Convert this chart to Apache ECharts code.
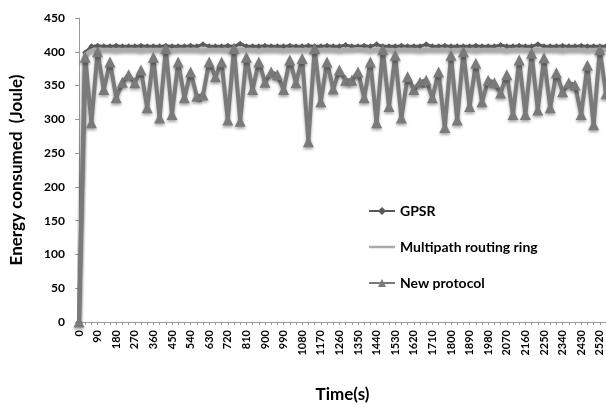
<!DOCTYPE html>
<html>
<head>
<meta charset="utf-8">
<script src="https://cdn.jsdelivr.net/npm/echarts@6/dist/echarts.min.js"></script>
<style>
html,body{margin:0;padding:0;background:#fff;}
#chart{width:606px;height:408px;}
</style>
</head>
<body>
<div id="chart"></div>
<script>
var timeLabels = ['0','30','60','90','120','150','180','210','240','270','300','330','360','390','420','450','480','510','540','570','600','630','660','690','720','750','780','810','840','870','900','930','960','990','1020','1050','1080','1110','1140','1170','1200','1230','1260','1290','1320','1350','1380','1410','1440','1470','1500','1530','1560','1590','1620','1650','1680','1710','1740','1770','1800','1830','1860','1890','1920','1950','1980','2010','2040','2070','2100','2130','2160','2190','2220','2250','2280','2310','2340','2370','2400','2430','2460','2490','2520','2550'];

var gpsr = [0,399,408,409,408,408,409,408,408,408,409,408,408,408,409,408,408,408,409,408,411,408,408,408,409,408,412,408,408,408,409,408,408,408,409,408,408,409,408,408,409,408,408,410,408,408,409,408,411,408,408,408,409,408,408,408,411,408,408,409,408,408,408,408,409,408,408,408,410,408,408,409,408,408,411,408,408,408,409,408,408,409,408,408,408,408];

var multipath = [0,396,402,403,403,403,402,403,403,403,402,403,403,403,403,402,403,403,403,403,402,403,403,403,402,403,403,403,403,402,403,403,403,402,403,403,403,403,402,403,403,403,402,403,403,404,403,402,403,403,403,402,403,403,403,402,403,403,403,403,402,403,403,403,402,403,403,403,403,402,403,403,403,402,403,403,403,403,402,403,403,403,402,403,403,403];

var newProtocol = [0,392,295,400,344,385,332,355,366,354,373,317,392,302,405,307,385,332,370,334,336,385,363,385,299,405,297,392,344,385,355,370,366,344,388,354,390,267,405,326,385,345,373,358,358,370,332,385,295,403,319,395,302,363,344,355,358,332,370,288,395,299,400,319,383,326,358,354,339,366,307,388,307,398,314,391,317,369,341,354,351,307,380,292,403,338];

var yTicks = {min: 0, max: 450, interval: 50};

var chart = echarts.init(document.getElementById('chart'));
var shadow = {shadowColor: 'rgba(0,0,0,0.35)', shadowBlur: 3, shadowOffsetY: 2};
var fontFam = 'Lato, "Open Sans", sans-serif';

chart.setOption({
  animation: false,
  backgroundColor: '#fff',
  grid: {left: 79, right: 0, top: 18, bottom: 85, containLabel: false},
  legend: {
    orient: 'vertical',
    left: 363,
    top: 199,
    itemGap: 22,
    itemWidth: 26,
    itemHeight: 10,
    textStyle: {fontFamily: fontFam, fontWeight: 'bold', fontSize: 14, color: '#000'},
    data: [
      {name: 'GPSR'},
      {name: 'Multipath routing ring', icon: 'path://M0,4 L26,4 L26,6.5 L0,6.5 Z'},
      {name: 'New protocol'}
    ]
  },
  xAxis: {
    type: 'category',
    boundaryGap: false,
    data: timeLabels,
    name: 'Time(s)',
    nameLocation: 'middle',
    nameGap: 64,
    nameTextStyle: {fontFamily: fontFam, fontWeight: 'bold', fontSize: 17, color: '#000'},
    axisLine: {lineStyle: {color: '#9a9a9a', width: 1}},
    axisTick: {show: true, interval: 0, length: 3, lineStyle: {color: '#9a9a9a'}},
    axisLabel: {interval: 2, rotate: 90, fontFamily: fontFam, fontWeight: 'bold', fontSize: 11, color: '#000', margin: 8},
    splitLine: {show: false}
  },
  yAxis: {
    type: 'value',
    min: yTicks.min,
    max: yTicks.max,
    interval: yTicks.interval,
    name: 'Energy consumed  (Joule)',
    nameLocation: 'middle',
    nameGap: 54,
    nameTextStyle: {fontFamily: fontFam, fontWeight: 'bold', fontSize: 17, color: '#000'},
    axisLine: {show: true, lineStyle: {color: '#9a9a9a', width: 1}},
    axisTick: {show: true, length: 4, lineStyle: {color: '#9a9a9a'}},
    axisLabel: {fontFamily: fontFam, fontWeight: 'bold', fontSize: 12, color: '#000', margin: 14},
    splitLine: {show: false}
  },
  series: [
    {
      name: 'GPSR',
      type: 'line',
      data: gpsr,
      symbol: 'diamond',
      symbolSize: 6,
      showAllSymbol: true,
      itemStyle: {color: '#595959'},
      lineStyle: Object.assign({color: '#595959', width: 3}, shadow),
      z: 2
    },
    {
      name: 'Multipath routing ring',
      type: 'line',
      data: multipath,
      symbol: 'none',
      itemStyle: {color: '#ababab'},
      lineStyle: Object.assign({color: '#ababab', width: 4}, shadow),
      z: 3
    },
    {
      name: 'New protocol',
      type: 'line',
      data: newProtocol,
      symbol: 'triangle',
      symbolSize: 11,
      showAllSymbol: true,
      itemStyle: Object.assign({color: '#7a7a7a'}, shadow),
      lineStyle: Object.assign({color: '#7a7a7a', width: 4}, shadow),
      z: 4
    }
  ]
});
</script>
</body>
</html>
